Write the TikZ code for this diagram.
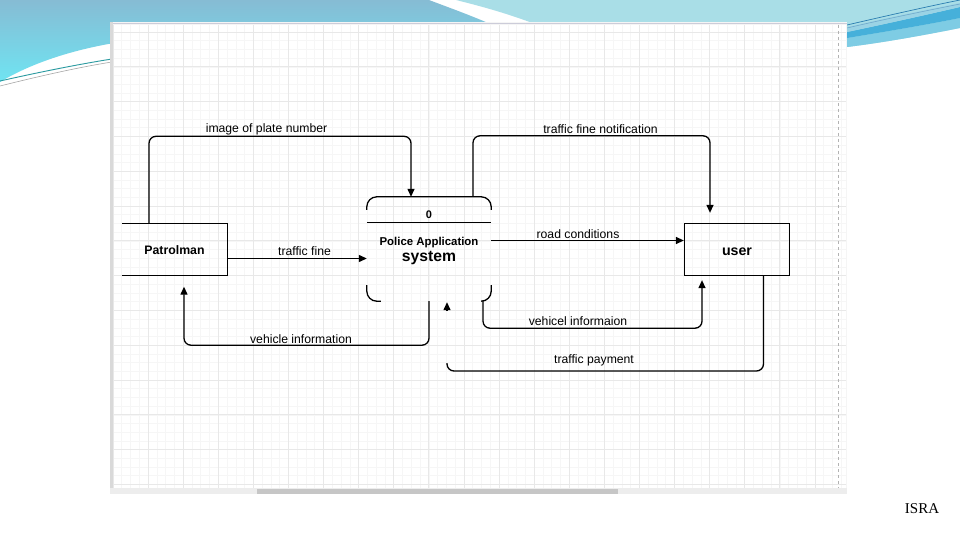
\documentclass[tikz,border=0pt]{standalone}
\usepackage{fontspec}
\setmainfont{Liberation Sans}
\newfontfamily\isrfont{Liberation Serif}
\usetikzlibrary{arrows.meta,calc}
\definecolor{bluetop}{HTML}{86BCD4}
\definecolor{bluebot}{HTML}{6FE4F2}
\definecolor{lcyan}{HTML}{A9DEE7}
\definecolor{bandblue}{HTML}{46B0DA}
\definecolor{bandlight}{HTML}{7ECCE4}
\definecolor{bandmid}{HTML}{9AD3E5}
\definecolor{darkline}{HTML}{2A7DB0}
\definecolor{tealline}{HTML}{2A9AA0}
\definecolor{gridmaj}{HTML}{E8E8E8}
\definecolor{gridmin}{HTML}{F6F6F6}
\tikzset{
  lbl/.style={font=\fontsize{12.2}{14}\selectfont, inner sep=0pt},
  namebox/.style={font=\bfseries\fontsize{12.3}{14}\selectfont, inner sep=0pt},
  conn/.style={line width=1.3pt, rounded corners=7pt},
  flow/.style={conn, -{Triangle[length=8pt,width=7pt]}},
  tip/.style={line width=1.3pt, -{Triangle[length=8pt,width=7pt]}},
  boxline/.style={line width=1.3pt}
}
\begin{document}
\begin{tikzpicture}[x=1pt,y=-1pt]
\useasboundingbox (0,0) rectangle (960,540);
\fill[white] (0,0) rectangle (960,540);
% --- slide decoration, top left
\shade[top color=bluetop, bottom color=bluebot]
  (0,0) -- (429,0) .. controls (450,8) and (470,15) .. (495,26) -- (120,26) -- (120,42)
  .. controls (70,50) and (30,64) .. (0,82) -- cycle;
\draw[tealline, line width=0.9pt] (0,81) .. controls (40,72) and (80,64) .. (112,59);
\draw[gray!70, line width=0.6pt] (0,86) .. controls (40,76) and (80,67) .. (112,62);
% --- slide decoration, top right
\fill[lcyan] (456,0) -- (960,0) -- (960,28) .. controls (920,36) and (880,43) .. (847,47)
  -- (600,47) -- (540,26) .. controls (510,14) and (480,6) .. (456,0) -- cycle;
\fill[bandlight] (847,38) .. controls (890,31) and (930,24) .. (960,18) -- (960,28)
  .. controls (920,36) and (880,43) .. (847,47) -- cycle;
\fill[bandblue] (847,32) .. controls (890,23) and (930,14) .. (960,7) -- (960,18)
  .. controls (930,24) and (890,31) .. (847,38) -- cycle;
\fill[bandmid] (847,27) .. controls (890,17) and (930,9) .. (960,3) -- (960,7)
  .. controls (930,14) and (890,23) .. (847,32) -- cycle;
\draw[darkline, line width=0.7pt] (847,25) .. controls (890,15) and (930,6) .. (960,0);
\draw[darkline!70, line width=0.5pt] (847,28) .. controls (890,18) and (930,10) .. (960,4);
% --- screenshot frame
\fill[gray!8] (110,22) rectangle (847,494);
\fill[white] (113,25) rectangle (846,488);
\draw[blue!15!gray!35, line width=1.5pt] (110,23.5) -- (847,23.5);
\fill[gray!30] (110,22) rectangle (112.5,490);
\begin{scope}
  \clip (113,25) rectangle (846,488);
  \foreach \i in {0,...,96} {
    \draw[gridmin, line width=0.5pt] ({112.9+8.775*\i},25) -- ({112.9+8.775*\i},488);
  }
  \foreach \i in {0,...,60} {
    \draw[gridmin, line width=0.5pt] (113,{-2.8+8.7*\i}) -- (846,{-2.8+8.7*\i});
  }
  \foreach \i in {0,...,21} {
    \draw[gridmaj, line width=0.8pt] ({112.9+35.1*\i},25) -- ({112.9+35.1*\i},488);
  }
  \foreach \i in {0,...,15} {
    \draw[gridmaj, line width=0.8pt] (113,{-2.8+34.8*\i}) -- (846,{-2.8+34.8*\i});
  }
\end{scope}
\draw[gray!60, dashed, dash pattern=on 3pt off 3pt, line width=0.6pt] (838,25) -- (838,488);
\fill[gray!14] (110,488) rectangle (847,494);
\fill[gray!45] (257,489) rectangle (618,494);
% --- diagram nodes
\node[minimum width=105pt, minimum height=52pt, inner sep=0pt] (pat) at (174.5,249.5) {};
\node[namebox] (patname) at (174.5,250) {Patrolman};
\draw[boxline] (pat.north west) -- (pat.north east) -- (pat.south east) -- (pat.south west);
\node[draw, line width=1.3pt, minimum width=105pt, minimum height=52pt, inner sep=0pt] (usr) at (737,249.5) {};
\node[namebox, font=\bfseries\fontsize{14.2}{16}\selectfont] (usrname) at (737,252) {user};
\node[minimum width=124pt, minimum height=104pt, inner sep=0pt] (proc) at (429,249) {};
\draw[boxline, rounded corners=10pt] ($(proc.north west)+(0,13)$) -- (proc.north west)
  -- (proc.north east) -- ($(proc.north east)+(0,13)$);
\draw[boxline, rounded corners=10pt] ($(proc.south west)+(0,-16)$) -- (proc.south west)
  -- ($(proc.south west)+(14,0)$);
\draw[boxline, rounded corners=10pt] ($(proc.south east)+(0,-16)$) -- (proc.south east)
  -- ($(proc.south east)+(-10,0)$);
\coordinate (divl) at ($(proc.north west)+(0,26)$);
\coordinate (divr) at ($(proc.north east)+(0,26)$);
\draw[boxline] (divl) -- (divr);
\node[font=\bfseries\fontsize{11}{12}\selectfont, inner sep=0pt] (pid) at (429,215) {0};
\node[font=\bfseries\fontsize{11.4}{13}\selectfont, inner sep=0pt] (pname) at (429,242.5) {Police Application};
\node[font=\bfseries\fontsize{15.7}{18}\selectfont, inner sep=0pt] (psys) at (429,258) {system};
% --- connectors
\draw[flow] ([xshift=-25.5pt]pat.north) -- ++(0,-87) -| ([xshift=-18pt]proc.north);
\draw[flow] ([xshift=44pt]proc.north) -- ++(0,-61) -| ([xshift=-27pt,yshift=10pt]usr.north);
\draw[flow] ([yshift=-9pt]pat.east) -- ([yshift=-9pt]pat.east -| proc.west);
\draw[flow] ([yshift=8.5pt]proc.east) -- ([yshift=8.5pt]proc.east -| usr.west);
\draw[flow] (proc.south) -- ++(0,44) -| ([xshift=9.5pt,yshift=-11pt]pat.south);
\draw[flow] ([xshift=54pt]proc.south) -- ++(0,27) -| ([xshift=-35pt,yshift=-4pt]usr.south);
\coordinate (payend) at (447,363);
\draw[conn] ([xshift=26.5pt]usr.south) |- (447,371) -- (payend);
\coordinate (paytip) at (447,310);
\draw[tip] (paytip) -- ([xshift=18pt,yshift=-1pt]proc.south);
% --- labels
\node[lbl] (l1) at (266.5,129) {image of plate number};
\node[lbl] (l2) at (600.5,129) {traffic fine notification};
\node[lbl] (l3) at (304.5,251) {traffic fine};
\node[lbl] (l4) at (578,234) {road conditions};
\node[lbl] (l5) at (301,339) {vehicle information};
\node[lbl] (l6) at (578,321) {vehicel informaion};
\node[lbl] (l7) at (594,360) {traffic payment};
\node[font=\isrfont\fontsize{15}{17}\selectfont, inner sep=0pt] (isra) at (922,509) {ISRA};
\end{tikzpicture}
\end{document}
